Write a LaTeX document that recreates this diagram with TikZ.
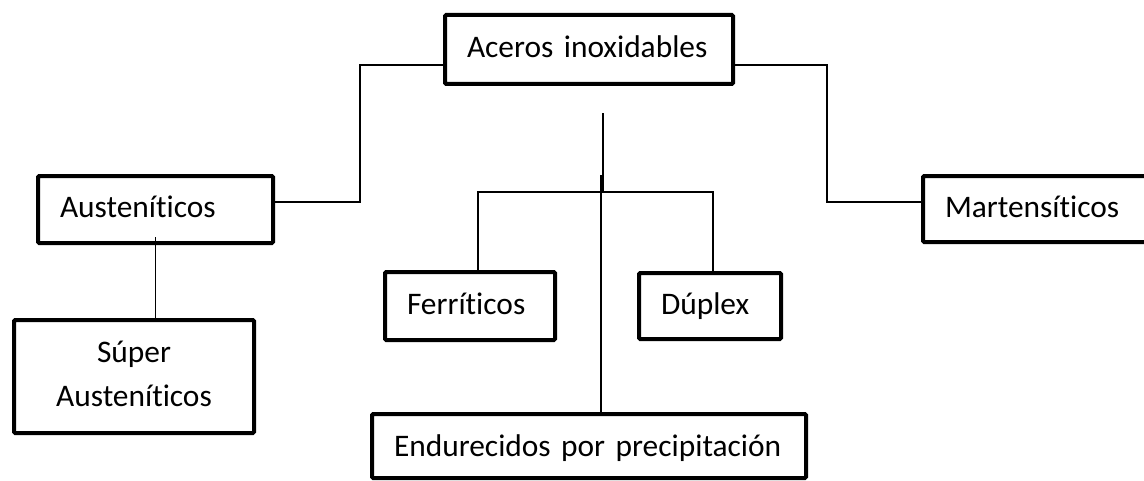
\documentclass[tikz,border=0pt]{standalone}
\usepackage{fontspec}
\setmainfont{Carlito}[Ligatures=NoCommon]

\begin{document}
\begin{tikzpicture}[x=0.5pt, y=-0.5pt,
	caja/.style={draw, line width=2pt, rounded corners=0.6pt, inner xsep=11pt, inner ysep=0pt, align=left, text height=10pt, text depth=2pt, font=\fontsize{15.7}{19}\selectfont},
	linea/.style={line width=0.75pt}]
	\useasboundingbox (0,0) rectangle (1144,481);
	\clip (0,0) rectangle (1144,481);

	\node[caja, text width=122pt, minimum height=34.5pt] (acero) at (589,49.5) {Aceros inoxidables};
	\node[caja, text width=95.5pt, minimum height=33.5pt] (aust) at (155.5,209.5) {Austeníticos};
	\node[caja, text width=98pt, minimum height=56.5pt, align=center, text depth=24pt, font=\fontsize{15.7}{22}\selectfont] (super) at (134,376.5) {Súper\\Austeníticos};
	\node[caja, text width=63pt, minimum height=34pt] (ferr) at (470,306) {Ferríticos};
	\node[caja, text width=49pt, minimum height=33pt] (dup) at (710,306) {Dúplex};
	\node[caja, text width=195pt, minimum height=32pt, text height=11pt, text depth=1pt] (endu) at (589,446) {Endurecidos por precipitación};
	\node[caja, text width=100.5pt, minimum height=33pt] (mart) at (1045.5,209) {Martensíticos};

	\coordinate (tronco) at (603,113);
	\coordinate (rama) at (603,192);
	\coordinate (cruce) at (601,175);

	\draw[linea] ([yshift=-7.75pt]acero.west) -- ++(-83,0) |- ([yshift=3.75pt]aust.east);
	\draw[linea] ([yshift=-7.75pt]acero.east) -- ++(92,0) |- ([yshift=3.5pt]mart.west);
	\draw[linea] ([yshift=4pt]aust.south) -- (aust.south |- super.north);
	\draw[line width=1.1pt] (tronco) -- (rama);
	\draw[linea] ([xshift=4pt]ferr.north) |- (rama) -| ([xshift=1.5pt]dup.north);
	\draw[linea] (cruce) -- (cruce |- endu.north);
\end{tikzpicture}
\end{document}
